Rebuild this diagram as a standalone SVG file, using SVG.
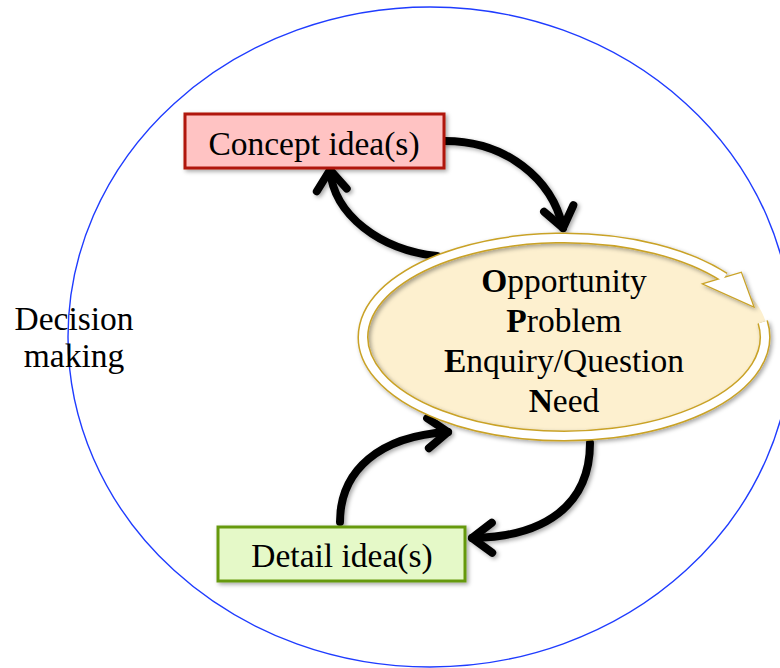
<svg xmlns="http://www.w3.org/2000/svg" width="780" height="668" viewBox="0 0 780 668">
<defs>
<style>
.t{font-family:"Liberation Serif","Times New Roman",serif;font-size:33.5px;fill:#000;text-anchor:middle}
.b{font-weight:bold}
.con{fill:none;stroke:#000;stroke-width:8;stroke-linecap:round}
</style>
<filter id="sh" x="-20%" y="-20%" width="140%" height="140%">
<feDropShadow dx="2" dy="2" stdDeviation="2" flood-color="#000" flood-opacity="0.35"/>
</filter>
<marker id="ah" markerUnits="userSpaceOnUse" markerWidth="40" markerHeight="40" viewBox="-30 -20 40 40" refX="0" refY="0" orient="auto">
<path d="M-20,-15 L0,0 L-20,15" fill="none" stroke="#000" stroke-width="8" stroke-linecap="round" stroke-linejoin="round"/>
</marker>
</defs>
<rect width="780" height="668" fill="#fff"/>
<g id="decision-making">
<ellipse cx="430" cy="337" rx="362" ry="330" fill="none" stroke="#1f3cff" stroke-width="1.4"/>
<text class="t" x="74" y="330">Decision</text>
<text class="t" x="74" y="367">making</text>
</g>
<g id="connectors" filter="url(#sh)">
<path class="con" d="M445,141 C505,141 552,178 563,228" marker-end="url(#ah)"/>
<path class="con" d="M437,256 C380,250 334,215 330,170" marker-end="url(#ah)"/>
<path class="con" d="M340,522 C340,470 380,436 448,432" marker-end="url(#ah)"/>
<path class="con" d="M590,443 C590,505 545,537 472,538" marker-end="url(#ah)"/>
</g>
<g id="concept">
<rect x="185" y="114" width="259" height="54" fill="#ffc3c3" stroke="#b0170a" stroke-width="3" filter="url(#sh)"/>
<text class="t" x="314" y="155">Concept idea(s)</text>
</g>
<g id="detail">
<rect x="218" y="527" width="247" height="54" fill="#e5f9c8" stroke="#66990f" stroke-width="3" filter="url(#sh)"/>
<text class="t" x="342" y="567">Detail idea(s)</text>
</g>
<g id="opportunity">
<ellipse cx="564" cy="337" rx="204" ry="101" fill="#fdf0cf"/>
<g filter="url(#sh)">
<polygon points="704,284 741,273 753,306" fill="#fff" stroke="#c9a227" stroke-width="2.4" stroke-linejoin="miter"/>
<path d="M762.7,322 A201,99 0 1,1 724.5,277.4" fill="none" stroke="#c9a227" stroke-width="11"/>
<path d="M762.7,322 A201,99 0 1,1 724.5,277.4" fill="none" stroke="#fff" stroke-width="8"/>
<polygon points="704,284 741,273 753,306" fill="#fff"/>
</g>
<text class="t" x="564" y="292"><tspan class="b">O</tspan>pportunity</text>
<text class="t" x="564" y="332"><tspan class="b">P</tspan>roblem</text>
<text class="t" x="564" y="372"><tspan class="b">E</tspan>nquiry/Question</text>
<text class="t" x="564" y="412"><tspan class="b">N</tspan>eed</text>
</g>
</svg>
